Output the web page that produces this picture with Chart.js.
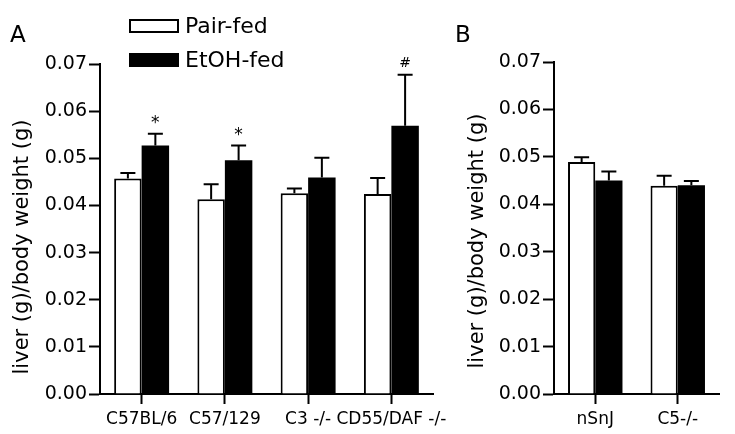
<!DOCTYPE html>
<html>
<head>
<meta charset="utf-8">
<script src="https://cdn.jsdelivr.net/npm/chart.js@4"></script>
<style>
  body { margin: 0; background: #fff; }
  #wrap { position: relative; width: 735px; height: 434px; }
  canvas { position: absolute; top: 0; }
</style>
</head>
<body>
<div id="wrap">
  <canvas id="chartA" width="470" height="434" style="left:0"></canvas>
  <canvas id="chartB" width="295" height="434" style="left:440px"></canvas>
</div>
<script>
// Panel A
const strainsA = ['C57BL/6', 'C57/129', 'C3 -/-', 'CD55/DAF -/-']
const pairFedA = [0.0457, 0.0413, 0.0426, 0.0424]
const pairFedErrA = [0.0012, 0.0032, 0.0010, 0.0034]
const etohFedA = [0.0527, 0.0496, 0.0459, 0.0569]
const etohFedErrA = [0.0025, 0.0031, 0.0042, 0.0108]
const marksA = ['*', '*', '', '#']

// Panel B
const strainsB = ['nSnJ', 'C5-/-']
const pairFedB = [0.0489, 0.0439]
const pairFedErrB = [0.0010, 0.0021]
const etohFedB = [0.0450, 0.0440]
const etohFedErrB = [0.0019, 0.0009]

const yMin = 0
const yMax = 0.07
const yStep = 0.01
const yTitle = 'liver (g)/body weight (g)'
const FONT = "'DejaVu Sans', sans-serif"

// error bars (upper only) + significance marks
const errorBars = {
  id: 'errorBars',
  afterDatasetsDraw(chart) {
    const ctx = chart.ctx
    const y = chart.scales.y
    chart.data.datasets.forEach((ds, i) => {
      const meta = chart.getDatasetMeta(i)
      meta.data.forEach((bar, j) => {
        const top = y.getPixelForValue(ds.data[j] + ds.errors[j])
        ctx.save()
        ctx.strokeStyle = '#000'
        ctx.lineWidth = 2
        ctx.beginPath()
        ctx.moveTo(bar.x, bar.y)
        ctx.lineTo(bar.x, top)
        ctx.moveTo(bar.x - 7.5, top)
        ctx.lineTo(bar.x + 7.5, top)
        ctx.stroke()
        const m = ds.marks && ds.marks[j]
        if (m) {
          ctx.fillStyle = '#000'
          ctx.textAlign = 'center'
          ctx.textBaseline = 'alphabetic'
          ctx.font = (m === '*' ? '17px ' : '14px ') + FONT
          ctx.fillText(m, bar.x, top - (m === '*' ? 6 : 8))
        }
        ctx.restore()
      })
    })
  }
}

// panel letter, y title and hand-placed legend
const panelDecor = {
  id: 'panelDecor',
  afterDraw(chart, args, opts) {
    const ctx = chart.ctx
    ctx.save()
    ctx.fillStyle = '#000'
    ctx.textBaseline = 'alphabetic'
    ctx.textAlign = 'left'
    ctx.font = '23px ' + FONT
    ctx.fillText(opts.letter, opts.lx, opts.ly)

    ctx.save()
    ctx.translate(opts.tx, opts.ty)
    ctx.rotate(-Math.PI / 2)
    ctx.textAlign = 'center'
    ctx.textBaseline = 'middle'
    ctx.font = '21px ' + FONT
    ctx.fillText(yTitle, 0, 0)
    ctx.restore()

    if (opts.legend) {
      ctx.font = '22px ' + FONT
      chart.data.datasets.forEach((ds, i) => {
        const yTop = 20 + i * 34
        ctx.fillStyle = ds.backgroundColor
        ctx.fillRect(130, yTop, 48, 12)
        ctx.strokeStyle = '#000'
        ctx.lineWidth = 2
        ctx.strokeRect(130, yTop, 48, 12)
        ctx.fillStyle = '#000'
        ctx.textBaseline = 'middle'
        ctx.fillText(ds.label, 185, yTop + 7)
      })
    }
    ctx.restore()
  }
}

function makePanel(id, labels, pair, pairErr, etoh, etohErr, marks, o) {
  return new Chart(document.getElementById(id), {
    type: 'bar',
    data: {
      labels: labels,
      datasets: [{
        label: 'Pair-fed',
        data: pair,
        errors: pairErr,
        backgroundColor: '#fff',
        borderColor: '#000',
        borderWidth: 2,
        borderSkipped: 'bottom'
      }, {
        label: 'EtOH-fed',
        data: etoh,
        errors: etohErr,
        marks: marks,
        backgroundColor: '#000',
        borderColor: '#000',
        borderWidth: 0
      }]
    },
    options: {
      responsive: false,
      animation: false,
      categoryPercentage: 0.66,
      barPercentage: 1,
      layout: { padding: { left: 0, right: o.padRight, top: o.padTop, bottom: 0 } },
      plugins: {
        legend: { display: false },
        tooltip: { enabled: false },
        panelDecor: o.decor
      },
      scales: {
        x: {
          afterFit: (s) => { s.height = 40 },
          grid: { display: true, offset: false, drawOnChartArea: false, drawTicks: true, tickLength: 10, tickWidth: 2, tickColor: '#000' },
          border: { display: true, color: '#000', width: 2 },
          ticks: { color: '#000', font: { family: FONT, size: 17 }, padding: 5, maxRotation: 0, autoSkip: false }
        },
        y: {
          min: yMin,
          max: yMax,
          afterFit: (s) => { s.width = o.yWidth },
          grid: { drawOnChartArea: false, drawTicks: true, tickLength: 11, tickWidth: 2, tickColor: '#000' },
          border: { display: true, color: '#000', width: 2 },
          ticks: {
            stepSize: yStep,
            color: '#000',
            padding: 2,
            font: { family: FONT, size: 19 },
            callback: (v) => v.toFixed(2)
          }
        }
      }
    },
    plugins: [errorBars, panelDecor]
  })
}

makePanel('chartA', strainsA, pairFedA, pairFedErrA, etohFedA, etohFedErrA, marksA,
  { padRight: 37, padTop: 64, yWidth: 100,
    decor: { letter: 'A', lx: 10, ly: 42, legend: true, tx: 23, ty: 247 } })

makePanel('chartB', strainsB, pairFedB, pairFedErrB, etohFedB, etohFedErrB, null,
  { padRight: 16, padTop: 62, yWidth: 114,
    decor: { letter: 'B', lx: 15, ly: 42, legend: false, tx: 38, ty: 241 } })
</script>
</body>
</html>
